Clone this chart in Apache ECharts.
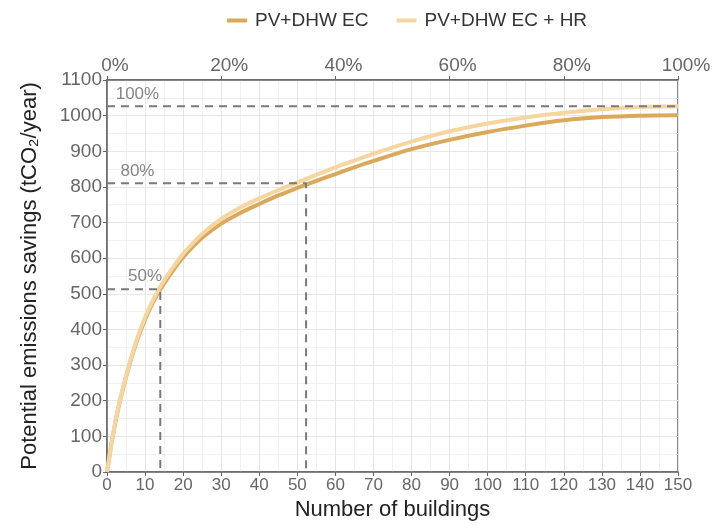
<!DOCTYPE html>
<html>
<head>
<meta charset="utf-8">
<script src="https://cdn.jsdelivr.net/npm/echarts@6/dist/echarts.min.js"></script>
<style>
  html, body { margin: 0; padding: 0; background: #fff; }
  #chart { width: 725px; height: 525px; }
</style>
</head>
<body>
<div id="chart"></div>
<script>
// number of buildings (x) and savings (tCO2/year)
const buildings = [0, 1, 2, 3, 4, 6, 8, 10, 12, 14, 17, 20, 25, 30, 35, 40, 45, 50, 55, 60, 65, 70, 80, 90, 100, 110, 120, 130, 140, 150]
const savingsEC = [0, 68, 128, 180, 225, 305, 372, 428, 474, 512, 560, 603, 657, 697, 727, 752, 776, 797, 817, 836, 855, 873, 906, 932, 954, 972, 987, 996, 1000, 1001]
const savingsECHR = [0, 69, 130, 183, 228, 309, 377, 434, 481, 520, 569, 612, 668, 710, 742, 768, 791, 813, 834, 855, 874, 893, 927, 956, 978, 995, 1008, 1018, 1024, 1026]

// dashed guides: 100%, 80%, 50% of total savings
const guide100 = [[0, 1026], [150, 1026]]
const guide80 = [[0, 810], [52.3, 810], [52.3, 0]]
const guide50 = [[0, 513], [14, 513], [14, 0]]
const guideLabels = [['100%', 8, 1026], ['80%', 8, 810], ['50%', 10, 513]]

const topTicks = [0, 20, 40, 60, 80, 100] // % of buildings

const FONT = 'Liberation Sans'
const chart = echarts.init(document.getElementById('chart'))

const zip = (xs, ys) => xs.map((x, i) => [x, ys[i]])
const dashed = { color: '#7a7a7a', width: 2, type: [8, 6] }

chart.setOption({
  animation: false,
  textStyle: { fontFamily: FONT },
  legend: {
    top: 6,
    left: 222,
    icon: 'rect',
    itemWidth: 20,
    itemHeight: 4,
    itemGap: 28,
    textStyle: { fontSize: 19, color: '#333', fontFamily: FONT, padding: [0, 0, 0, 3] },
    data: ['PV+DHW EC', 'PV+DHW EC + HR']
  },
  grid: {
    left: 107, right: 47, top: 80, bottom: 53,
    outerBoundsMode: 'none',
    show: true, borderColor: '#666', borderWidth: 1.5
  },
  xAxis: [
    {
      type: 'value', min: 0, max: 150, interval: 10,
      name: 'Number of buildings', nameLocation: 'middle', nameGap: 27,
      nameTextStyle: { fontSize: 22, color: '#222', fontFamily: FONT },
      axisLine: { lineStyle: { color: '#666', width: 1.5 } },
      axisTick: { show: true, length: 4, lineStyle: { color: '#666' } },
      axisLabel: { fontSize: 17, color: '#666', margin: 5 },
      splitLine: { lineStyle: { color: '#e6e6e6' } },
      minorTick: { show: false, splitNumber: 2 },
      minorSplitLine: { show: true, lineStyle: { color: '#f0f0f0' } }
    },
    {
      type: 'value', position: 'top', min: 0, max: 100, interval: 20,
      axisLine: { show: true, lineStyle: { color: '#666', width: 1.5 } },
      axisTick: { show: true, length: 4, lineStyle: { color: '#666' } },
      axisLabel: {
        fontSize: 19, color: '#666', margin: 5, padding: [0, 0, 0, 16],
        formatter: v => topTicks.includes(v) ? v + '%' : ''
      },
      splitLine: { show: false }
    }
  ],
  yAxis: {
    type: 'value', min: 0, max: 1100, interval: 100,
    name: 'Potential emissions savings (tCO\u2082/year)', nameLocation: 'middle', nameGap: 66,
    nameTextStyle: { fontSize: 22, color: '#222', fontFamily: FONT },
    axisLine: { show: true, lineStyle: { color: '#666', width: 1.5 } },
    axisTick: { show: true, length: 4, lineStyle: { color: '#666' } },
    axisLabel: { fontSize: 19, color: '#666', margin: 5, formatter: v => String(v) },
    splitLine: { lineStyle: { color: '#e6e6e6' } },
    minorTick: { show: false, splitNumber: 2 },
    minorSplitLine: { show: true, lineStyle: { color: '#f0f0f0' } }
  },
  series: [
    {
      name: 'PV+DHW EC', type: 'line', smooth: 0.3, symbol: 'none',
      data: zip(buildings, savingsEC),
      itemStyle: { color: '#dba95c' },
      lineStyle: { color: '#dba95c', width: 4 }
    },
    {
      name: 'PV+DHW EC + HR', type: 'line', smooth: 0.3, symbol: 'none',
      data: zip(buildings, savingsECHR),
      itemStyle: { color: '#f6d6a0' },
      lineStyle: { color: '#f6d6a0', width: 4 }
    },
    { type: 'line', symbol: 'none', data: guide100, lineStyle: dashed, silent: true },
    { type: 'line', symbol: 'none', data: guide80, lineStyle: dashed, silent: true },
    { type: 'line', symbol: 'none', data: guide50, lineStyle: dashed, silent: true },
    {
      type: 'scatter', symbolSize: 0, silent: true,
      data: guideLabels.map(d => ({ value: [d[1], d[2]], name: d[0] })),
      label: {
        show: true, position: 'top', distance: 4,
        formatter: p => p.name, fontSize: 17, color: '#666', fontFamily: FONT
      }
    }
  ]
})
</script>
</body>
</html>
